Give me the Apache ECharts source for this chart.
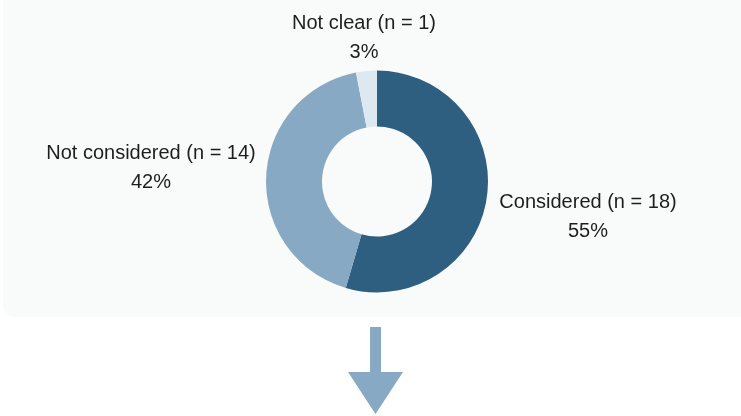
<!DOCTYPE html>
<html>
<head>
<meta charset="utf-8">
<script src="https://cdn.jsdelivr.net/npm/echarts@6/dist/echarts.min.js"></script>
<style>
  html, body { margin: 0; padding: 0; background: #ffffff; }
  #chart { width: 741px; height: 416px; }
</style>
</head>
<body>
<div id="chart"></div>
<script>
// Study outcome breakdown
const categories = ['Considered', 'Not considered', 'Not clear'];
const counts = [18, 14, 1];
const sliceColors = ['#2e5f80', '#87a9c4', '#dde8f1'];

// Label anchor points (block centres) for each slice
const labelAnchors = [
  { x: 588, y: 217 },
  { x: 151, y: 168 },
  { x: 364, y: 38 }
];

const chart = echarts.init(document.getElementById('chart'), null, { renderer: 'canvas' });

chart.setOption({
  animation: false,
  backgroundColor: '#ffffff',
  graphic: [
    {
      type: 'rect',
      z: -10,
      silent: true,
      shape: { x: 3, y: -20, width: 770, height: 337, r: 12 },
      style: { fill: '#f9fafa' }
    },
    {
      type: 'polygon',
      z: -5,
      silent: true,
      shape: {
        points: [
          [370, 327], [381, 327], [381, 372], [403, 372],
          [375.5, 414], [348, 372], [370, 372]
        ]
      },
      style: { fill: '#87a9c4' }
    }
  ],
  series: [
    {
      type: 'pie',
      center: [377, 181.5],
      radius: [55, 111],
      startAngle: 90,
      clockwise: true,
      percentPrecision: 0,
      avoidLabelOverlap: false,
      emphasis: { disabled: true },
      itemStyle: { borderWidth: 0 },
      label: {
        show: true,
        position: 'outside',
        color: '#1e1e1e',
        fontFamily: '"Liberation Sans", Arial, sans-serif',
        fontSize: 20,
        lineHeight: 29,
        align: 'center',
        formatter: function (p) {
          return p.name + ' (n = ' + p.value + ')\n' + p.percent + '%';
        }
      },
      labelLine: { show: false },
      labelLayout: function (params) {
        const a = labelAnchors[params.dataIndex];
        return { x: a.x, y: a.y, align: 'center', verticalAlign: 'middle' };
      },
      data: categories.map(function (name, i) {
        return { name: name, value: counts[i], itemStyle: { color: sliceColors[i] } };
      })
    }
  ]
});
</script>
</body>
</html>
